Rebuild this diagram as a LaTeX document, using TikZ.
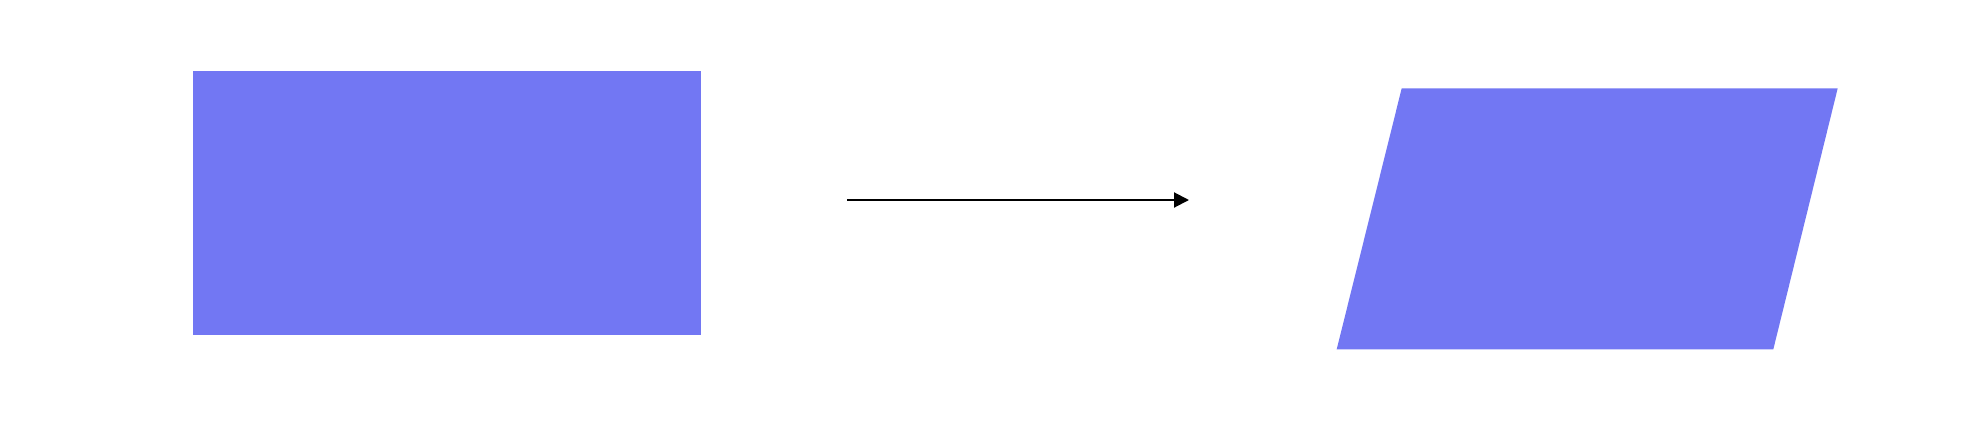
\documentclass[tikz,border=0pt]{standalone}
\usetikzlibrary{arrows.meta}
\definecolor{shapeblue}{RGB}{114,119,243}
\begin{document}
\begin{tikzpicture}[x=1pt,y=-1pt,
  shapefill/.style={fill=shapeblue,draw=none},
  conn/.style={line width=2pt,-{Triangle[length=15pt,width=15pt]}}]
\useasboundingbox[fill=white] (0,0) rectangle (1974,424);
\fill[shapefill] (193,71) rectangle (701,335);
\coordinate (ra) at (847,200);
\coordinate (rb) at (1189,200);
\draw[conn] (ra) -- (rb);
\fill[shapefill] (1401.7,88.3) -- (1837.7,88.3) -- (1773.3,349.3) -- (1336.7,349.3) -- cycle;
\end{tikzpicture}
\end{document}
